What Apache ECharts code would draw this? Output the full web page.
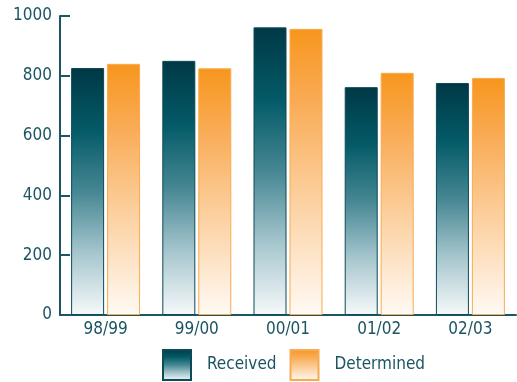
<!DOCTYPE html>
<html>
<head>
<meta charset="utf-8">
<script src="https://cdn.jsdelivr.net/npm/echarts@6/dist/echarts.min.js"></script>
<style>
  html, body { margin: 0; padding: 0; background: #fff; }
  #chart { width: 517px; height: 382px; }
</style>
</head>
<body>
<div id="chart"></div>
<script>
// Applications received vs determined per financial year
const years = ['98/99', '99/00', '00/01', '01/02', '02/03'];
const received = [826, 850, 962, 762, 776];
const determined = [840, 825, 957, 810, 793];
const yTicks = [0, 200, 400, 600, 800, 1000];

const axisColor = '#1d5663';
const textColor = '#1b5462';
const font = '"DejaVu Sans Condensed", "Roboto", sans-serif';

const tealFill = new echarts.graphic.LinearGradient(0, 0, 0, 1, [
  { offset: 0, color: '#003845' },
  { offset: 0.25, color: '#045a68' },
  { offset: 0.5, color: '#468793' },
  { offset: 0.75, color: '#a6c6ce' },
  { offset: 1, color: '#f6f9fa' }
]);
const orangeFill = new echarts.graphic.LinearGradient(0, 0, 0, 1, [
  { offset: 0, color: '#f7961d' },
  { offset: 0.25, color: '#f9ab55' },
  { offset: 0.5, color: '#fbc68b' },
  { offset: 0.75, color: '#fde0c0' },
  { offset: 1, color: '#fffaf4' }
]);

const chart = echarts.init(document.getElementById('chart'), null, { renderer: 'canvas' });
chart.setOption({
  animation: false,
  grid: { left: 60, right: 1, top: 16, bottom: 67 },
  legend: {
    bottom: -4,
    left: 157,
    itemWidth: 28,
    itemHeight: 30,
    itemGap: 13,
    icon: 'rect',
    textStyle: { color: textColor, fontSize: 17, fontFamily: font, padding: [0, 0, 0, 11] },
    data: ['Received', 'Determined']
  },
  xAxis: {
    type: 'category',
    data: years,
    axisLine: { lineStyle: { color: axisColor, width: 2 } },
    axisTick: { inside: true, length: 7, lineStyle: { color: axisColor, width: 2 } },
    axisLabel: { color: textColor, fontSize: 17, fontFamily: font, margin: 6 }
  },
  yAxis: {
    type: 'value',
    min: yTicks[0],
    max: yTicks[yTicks.length - 1],
    interval: 200,
    axisLine: { show: true, lineStyle: { color: axisColor, width: 2 } },
    axisTick: { show: true, inside: true, length: 10, lineStyle: { color: axisColor, width: 2 } },
    splitLine: { show: false },
    axisLabel: { color: textColor, fontSize: 17, fontFamily: font, margin: 8, formatter: v => String(v) }
  },
  series: [
    {
      name: 'Received',
      type: 'bar',
      data: received,
      barWidth: 33,
      barGap: '9%',
      itemStyle: { color: tealFill, borderColor: '#0d4a57', borderWidth: 1 }
    },
    {
      name: 'Determined',
      type: 'bar',
      data: determined,
      barWidth: 33,
      itemStyle: { color: orangeFill, borderColor: '#f9ab50', borderWidth: 1 }
    }
  ]
});
</script>
</body>
</html>
